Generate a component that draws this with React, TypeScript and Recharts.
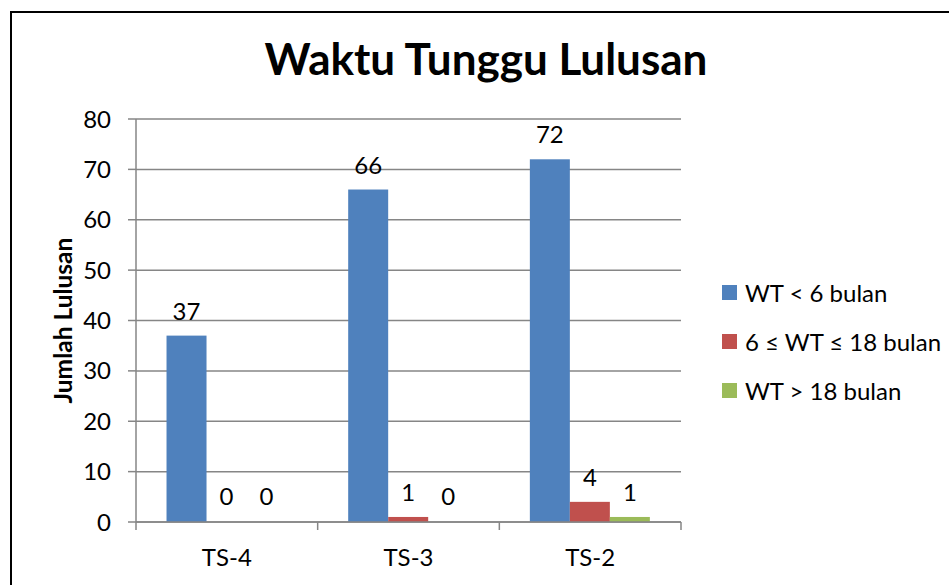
import React from 'react';
import { BarChart, Bar, XAxis, YAxis, CartesianGrid, LabelList, Label } from 'recharts';

const categories = ['TS-4', 'TS-3', 'TS-2'];
const wtLess6 = [37, 66, 72];
const wt6to18 = [0, 1, 4];
const wtMore18 = [0, 0, 1];
const yTicks = [0, 10, 20, 30, 40, 50, 60, 70, 80];
const seriesNames = ['WT < 6 bulan', '6 \u2264 WT \u2264 18 bulan', 'WT > 18 bulan'];
const colors = ['#4F81BD', '#C0504D', '#9BBB59'];

const data = categories.map((c, i) => ({ name: c, a: wtLess6[i], b: wt6to18[i], c: wtMore18[i] }));

const FONT = 'Lato, "Open Sans", sans-serif';
const GRID = '#868686';

const LegendBox = () => (
  <div style={{ position: 'absolute', left: 722, top: 268, fontFamily: FONT, fontSize: 24, color: '#000' }}>
    {seriesNames.map((n, i) => (
      <div key={n} style={{ display: 'flex', alignItems: 'center', height: 49, whiteSpace: 'nowrap' }}>
        <span style={{ display: 'inline-block', width: 15, height: 15, background: colors[i], marginRight: 8 }} />
        <span>{n}</span>
      </div>
    ))}
  </div>
);

const YLabel = (props: any) => {
  const vb = props.viewBox || {};
  const cx = 62;
  const cy = vb.y + vb.height / 2;
  return (
    <text x={cx} y={cy} transform={`rotate(-90, ${cx}, ${cy})`} textAnchor="middle" dominantBaseline="central"
      style={{ fontFamily: FONT, fontSize: 24.5, fontWeight: 700, fill: '#000' }}>
      Jumlah Lulusan
    </text>
  );
};

const XTick = (props: any) => {
  const { x, y, payload, index, visibleTicksCount } = props;
  const half = payload.offset || 0;
  const left = x - half;
  const right = x + half;
  const isLast = index === (visibleTicksCount ?? categories.length) - 1;
  return (
    <g>
      <line x1={left} y1={y} x2={left} y2={y + 8} stroke={GRID} strokeWidth={1.5} />
      {isLast && <line x1={right} y1={y} x2={right} y2={y + 8} stroke={GRID} strokeWidth={1.5} />}
      <text x={x} y={y + 34} textAnchor="middle" dominantBaseline="central"
        style={{ fontFamily: FONT, fontSize: 24, fill: '#000' }}>{payload.value}</text>
    </g>
  );
};

const BarShape = (props: any) => {
  const { x, y, width, height, fill, value } = props;
  const v = Array.isArray(value) ? value[1] - value[0] : value;
  if (!v) return null;
  return <rect x={x} y={y} width={width} height={height} fill={fill} />;
};

const labelStyle = { fontFamily: FONT, fontSize: 24, fill: '#000' };

export default function App() {
  return (
    <div style={{ position: 'absolute', left: 0, top: 0, width: 949, height: 585, overflow: 'hidden', background: '#fff' }}>
      <div style={{ position: 'absolute', left: 10, top: 11, width: 1200, height: 1200, border: '2px solid #000', boxSizing: 'border-box' }} />
      <div style={{ position: 'absolute', left: 0, top: 32, width: 972, textAlign: 'center', fontFamily: FONT, fontWeight: 700, fontSize: 44, color: '#000', lineHeight: '52px' }}>
        Waktu Tunggu Lulusan
      </div>
      <div style={{ position: 'absolute', left: 0, top: 0 }}>
        <BarChart width={949} height={585} data={data} margin={{ top: 119, right: 268, bottom: 23, left: 20 }}
          barCategoryGap="16.8%" barGap={0}>
          <CartesianGrid vertical={false} stroke={GRID} strokeWidth={1.5} />
          <XAxis dataKey="name" axisLine={{ stroke: GRID, strokeWidth: 1.5 }} tickLine={false} tickSize={0} tickMargin={0}
            height={40} tick={<XTick />} interval={0} />
          <YAxis domain={[0, 80]} ticks={yTicks} width={116} tickSize={8} tickMargin={17} interval={0}
            stroke={GRID} strokeWidth={1.5} tick={{ fontFamily: FONT, fontSize: 24, fill: '#000' }}>
            <Label content={YLabel} />
          </YAxis>
          <Bar dataKey="a" name={seriesNames[0]} fill={colors[0]} minPointSize={1} shape={<BarShape />} isAnimationActive={false}>
            <LabelList dataKey="a" position="top" offset={16} style={labelStyle} />
          </Bar>
          <Bar dataKey="b" name={seriesNames[1]} fill={colors[1]} minPointSize={1} shape={<BarShape />} isAnimationActive={false}>
            <LabelList dataKey="b" position="top" offset={16} style={labelStyle} />
          </Bar>
          <Bar dataKey="c" name={seriesNames[2]} fill={colors[2]} minPointSize={1} shape={<BarShape />} isAnimationActive={false}>
            <LabelList dataKey="c" position="top" offset={16} style={labelStyle} />
          </Bar>
        </BarChart>
      </div>
      <LegendBox />
    </div>
  );
}
